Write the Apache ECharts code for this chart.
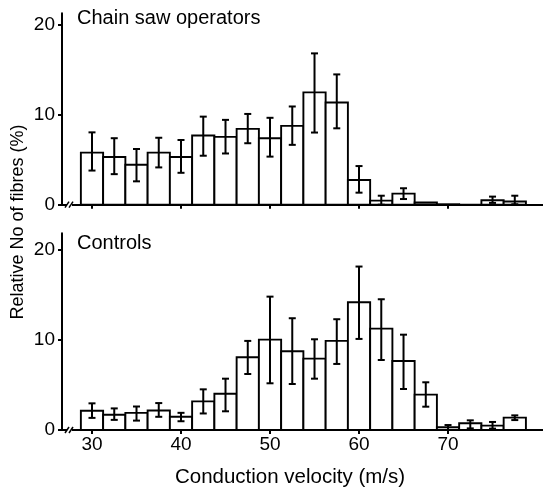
<!DOCTYPE html>
<html>
<head>
<meta charset="utf-8">
<script src="https://cdn.jsdelivr.net/npm/echarts@6/dist/echarts.min.js"></script>
<style>
html,body{margin:0;padding:0;background:#fff;}
#chart{width:543px;height:491px;}
</style>
</head>
<body>
<div id="chart"></div>
<script>
// Bin centres (m/s), bin width 2.5
const binCenters = [30, 32.5, 35, 37.5, 40, 42.5, 45, 47.5, 50, 52.5, 55, 57.5, 60, 62.5, 65, 67.5, 70, 72.5, 75, 77.5];
const binWidth = 2.5;

// Chain saw operators (%)
const sawMean = [5.8, 5.3, 4.45, 5.8, 5.3, 7.7, 7.55, 8.44, 7.4, 8.77, 12.5, 11.37, 2.75, 0.45, 1.23, 0.25, 0.05, 0, 0.5, 0.35];
const sawLow  = [3.8, 3.4, 2.6, 4.15, 3.55, 5.45, 5.7, 6.84, 5.35, 6.66, 8.03, 8.5, 1.34, 0, 0.63, null, null, null, 0.2, 0.05];
const sawHigh = [8.05, 7.4, 6.2, 7.45, 7.2, 9.8, 9.44, 10.1, 9.67, 10.93, 16.84, 14.5, 4.3, 1.0, 1.83, null, null, null, 0.9, 1.0];

// Controls (%)
const ctrlMean = [2.13, 1.68, 1.9, 2.16, 1.46, 3.17, 4.02, 8.05, 10.0, 8.71, 7.9, 9.86, 14.14, 11.22, 7.64, 3.91, 0.3, 0.74, 0.48, 1.37];
const ctrlLow  = [1.34, 1.12, 1.04, 1.46, 0.97, 1.83, 2.07, 6.2, 5.17, 5.09, 5.68, 7.31, 10.08, 7.75, 4.54, 2.58, 0, 0.18, 0.15, 1.1];
const ctrlHigh = [2.95, 2.39, 2.6, 2.98, 1.9, 4.5, 5.68, 9.86, 14.76, 12.37, 10.04, 12.26, 18.09, 14.47, 10.55, 5.28, 0.55, 1.07, 0.89, 1.62];

const yTicks = [0, 10, 20];
const xTicks = [30, 40, 50, 60, 70];
const panelTitles = ['Chain saw operators', 'Controls'];
const xTitle = 'Conduction velocity (m/s)';
const yTitle = 'Relative No of fibres (%)';

const FONT = 'Liberation Sans';
const chart = echarts.init(document.getElementById('chart'), null, {renderer: 'canvas'});

function barSeries(idx, means) {
  return {
    type: 'custom', xAxisIndex: idx, yAxisIndex: idx,
    data: binCenters.map((c, i) => [c, means[i]]),
    renderItem: function (params, api) {
      const c = api.value(0), v = api.value(1);
      const p1 = api.coord([c - binWidth / 2, v]);
      const p2 = api.coord([c + binWidth / 2, 0]);
      return {
        type: 'rect',
        shape: {x: p1[0], y: p1[1], width: p2[0] - p1[0], height: p2[1] - p1[1]},
        style: {fill: '#fff', stroke: '#000', lineWidth: 1.9}
      };
    },
    z: 2
  };
}
function errSeries(idx, lows, highs) {
  return {
    type: 'custom', xAxisIndex: idx, yAxisIndex: idx,
    data: binCenters.map((c, i) => [c, lows[i], highs[i]]).filter(d => d[1] !== null),
    renderItem: function (params, api) {
      const c = api.value(0);
      const lo = api.coord([c, api.value(1)]);
      const hi = api.coord([c, api.value(2)]);
      const cw = 3.5;
      const st = {stroke: '#000', lineWidth: 2};
      return {
        type: 'group',
        children: [
          {type: 'line', shape: {x1: lo[0], y1: lo[1], x2: hi[0], y2: hi[1]}, style: st},
          {type: 'line', shape: {x1: lo[0] - cw, y1: lo[1], x2: lo[0] + cw, y2: lo[1]}, style: st},
          {type: 'line', shape: {x1: hi[0] - cw, y1: hi[1], x2: hi[0] + cw, y2: hi[1]}, style: st}
        ]
      };
    },
    z: 3
  };
}

function xAxisDef(idx, showLabels) {
  return {
    type: 'value', gridIndex: idx, min: 26.63, max: 80.67,
    axisLine: {show: true, onZero: false, lineStyle: {color: '#000', width: 2}},
    axisTick: {show: true, length: 4, inside: false, customValues: xTicks, lineStyle: {color: '#000', width: 2}},
    axisLabel: {show: showLabels, customValues: xTicks, fontSize: 19, color: '#000', fontFamily: FONT, margin: 5},
    splitLine: {show: false}
  };
}
function yAxisDef(idx, max) {
  return {
    type: 'value', gridIndex: idx, min: 0, max: max,
    axisLine: {show: true, lineStyle: {color: '#000', width: 2}},
    axisTick: {show: true, length: 4, customValues: yTicks, lineStyle: {color: '#000', width: 2}},
    axisLabel: {show: true, customValues: yTicks, fontSize: 19, color: '#000', fontFamily: FONT, margin: 7},
    splitLine: {show: false}
  };
}

chart.setOption({
  animation: false,
  grid: [
    {left: 62, top: 13.3, width: 481, height: 191.4},
    {left: 62, top: 233.3, width: 481, height: 196.7}
  ],
  xAxis: [xAxisDef(0, false), xAxisDef(1, true)],
  yAxis: [yAxisDef(0, 21.3), yAxisDef(1, 21.77)],
  series: [
    barSeries(0, sawMean), errSeries(0, sawLow, sawHigh),
    barSeries(1, ctrlMean), errSeries(1, ctrlLow, ctrlHigh)
  ]
});

// decorations: titles and axis break marks
const g = [];
g.push({type: 'text', left: 77, top: 8, style: {text: panelTitles[0], font: '20px "' + FONT + '"', fill: '#000'}});
g.push({type: 'text', left: 77, top: 233, style: {text: panelTitles[1], font: '20px "' + FONT + '"', fill: '#000'}});
g.push({type: 'text', x: 290, y: 477, style: {text: xTitle, font: '20.5px "' + FONT + '"', fill: '#000', align: 'center', verticalAlign: 'middle'}});
g.push({type: 'text', x: 18, y: 222, rotation: Math.PI / 2, style: {text: yTitle, font: '18px "' + FONT + '"', fill: '#000', align: 'center', verticalAlign: 'middle'}});
[0, 1].forEach(function (i) {
  const p = chart.convertToPixel({gridIndex: i}, [26.63, 0]);
  const bx = p[0] + 6, by = p[1];
  g.push({type: 'rect', shape: {x: bx - 1, y: by - 2, width: 5, height: 4}, style: {fill: '#fff'}, z: 100});
  g.push({type: 'line', shape: {x1: bx - 3, y1: by + 3, x2: bx + 1, y2: by - 3}, style: {stroke: '#000', lineWidth: 1.5}, z: 101});
  g.push({type: 'line', shape: {x1: bx + 1, y1: by + 3, x2: bx + 5, y2: by - 3}, style: {stroke: '#000', lineWidth: 1.5}, z: 101});
});
chart.setOption({graphic: g});
</script>
</body>
</html>
